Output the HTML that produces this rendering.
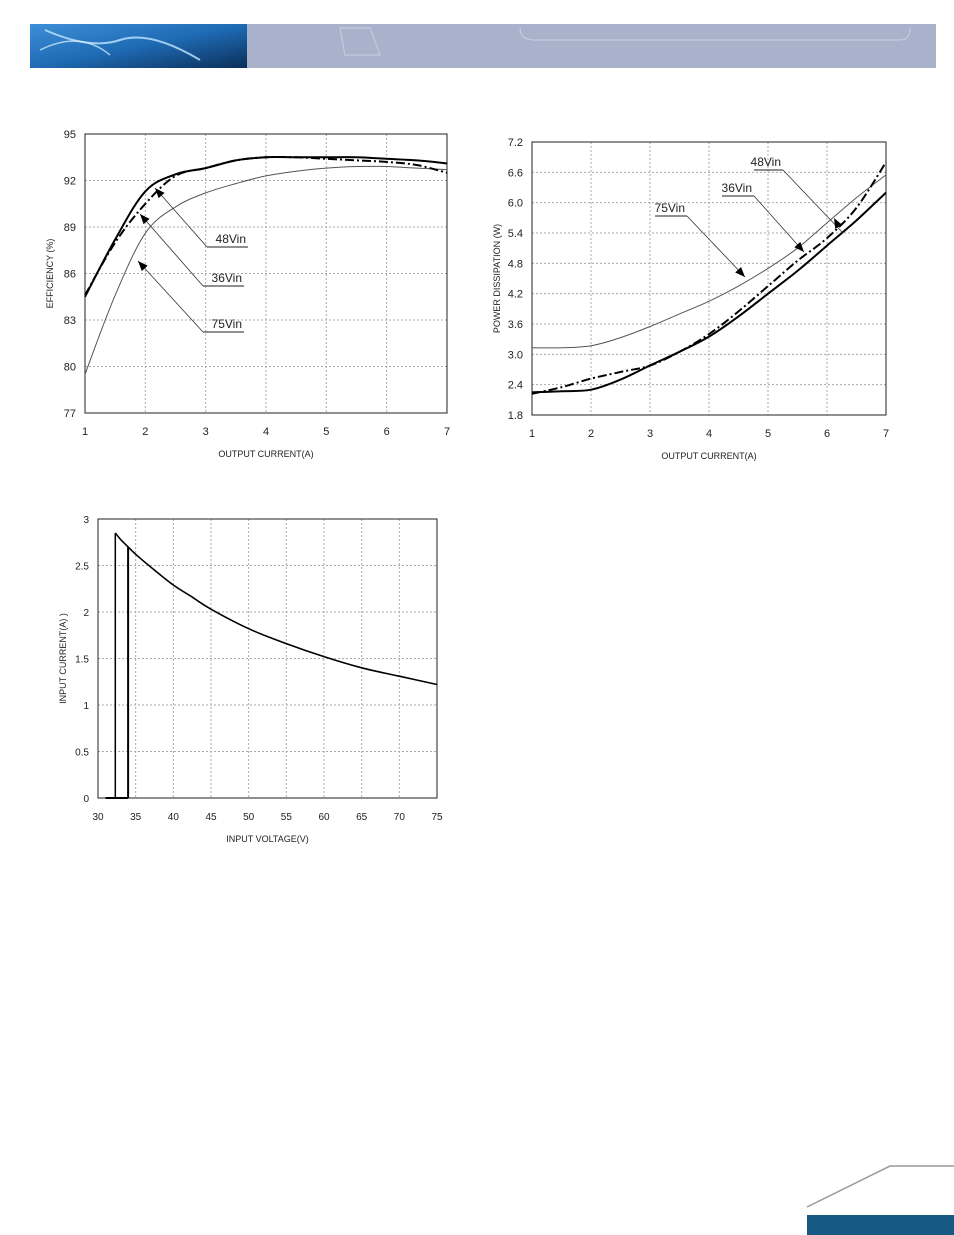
<!DOCTYPE html>
<html><head><meta charset="utf-8">
<style>
body{margin:0;background:#fff;}
#page{position:relative;width:954px;height:1235px;overflow:hidden;background:#fff;font-family:"Liberation Sans",sans-serif;}
svg text{font-family:"Liberation Sans",sans-serif;fill:#222;}
</style></head>
<body>
<div id="page">
<svg width="954" height="1235">
  <defs>
    <linearGradient id="hg" x1="0" x2="1" y1="0" y2="1">
      <stop offset="0" stop-color="#3d8fd8"/><stop offset="0.5" stop-color="#1f6bb4"/><stop offset="1" stop-color="#0b2f5a"/>
    </linearGradient>
  </defs>
  <g>
    <rect x="30" y="24" width="906" height="44" fill="#a8b3cb"/>
    <rect x="30" y="24" width="217" height="44" fill="url(#hg)"/>
    <path d="M45 30 Q90 50 120 40 T200 60" stroke="#bfe6ff" stroke-width="2" fill="none" opacity="0.8"/>
    <path d="M40 50 Q80 30 110 55" stroke="#dff3ff" stroke-width="1.5" fill="none" opacity="0.7"/>
    <path d="M340 28 L370 28 L380 55 L345 55 Z M520 28 Q520 40 535 40 L900 40 Q910 40 910 28" stroke="#c7d0e2" fill="none"/>
  </g>
  <g>
    <path d="M807 1207 L890 1166 L954 1166" stroke="#999" stroke-width="1.5" fill="none"/>
    <rect x="807" y="1215" width="147" height="20" fill="#165a84"/>
  </g>
  <g id="c1"></g>
  <g id="c2"></g>
  <g id="c3"></g>
</svg>
</div>
<script>
// Chart 1: efficiency vs output current
const effX = [1,1.5,2,2.5,3,3.5,4,4.5,5,5.5,6,6.5,7];
const eff48 = [84.5,88.2,91.3,92.4,92.8,93.3,93.5,93.5,93.5,93.5,93.4,93.3,93.1];
const eff36 = [84.6,88.0,90.5,92.3,92.8,93.3,93.5,93.5,93.4,93.3,93.2,93.0,92.5];
const eff75 = [79.5,84.6,88.6,90.3,91.2,91.8,92.3,92.6,92.8,92.9,92.9,92.8,92.7];
const effXTicks = [1,2,3,4,5,6,7];
const effYTicks = [77,80,83,86,89,92,95];
// Chart 2: power dissipation vs output current
const pdX = [1,1.5,2,2.5,3,3.5,4,4.5,5,5.5,6,6.5,7];
const pd75 = [3.13,3.13,3.17,3.33,3.55,3.8,4.05,4.35,4.7,5.1,5.6,6.1,6.55];
const pd48 = [2.25,2.27,2.3,2.5,2.78,3.05,3.35,3.75,4.2,4.65,5.15,5.65,6.2];
const pd36 = [2.22,2.35,2.52,2.65,2.78,3.05,3.4,3.85,4.35,4.85,5.3,5.9,6.8];
const pdXTicks = [1,2,3,4,5,6,7];
const pdYTicks = [1.8,2.4,3.0,3.6,4.2,4.8,5.4,6.0,6.6,7.2];
const pdYLabels = ["1.8","2.4","3.0","3.6","4.2","4.8","5.4","6.0","6.6","7.2"];
// Chart 3: input current vs input voltage
const inV = [32.3,33,34,35,37.5,40,42.5,45,50,55,60,65,70,75];
const inI = [2.85,2.78,2.7,2.62,2.45,2.29,2.16,2.03,1.82,1.66,1.52,1.40,1.31,1.22];
const baseV = [31,34];
const stepV = [32.3,34];
const stepTop = [2.85,2.7];
const inXTicks = [30,35,40,45,50,55,60,65,70,75];
const inYTicks = [0,0.5,1,1.5,2,2.5,3];

const NS="http://www.w3.org/2000/svg";
function mk(parent,tag,attrs){const e=document.createElementNS(NS,tag);for(const k in attrs)e.setAttribute(k,attrs[k]);parent.appendChild(e);return e;}
function axes(g,L,R,T,B,x0,x1,y0,y1){
  return {sx:v=>L+(v-x0)/(x1-x0)*(R-L), sy:v=>B-(v-y0)/(y1-y0)*(B-T)};
}
function frame(g,a,L,R,T,B,xt,yt,ylab,xtitle,ytitle,fs){
  xt.forEach(v=>{const x=a.sx(v);
    const l=mk(g,'line',{x1:x,x2:x,y1:T,y2:B,stroke:'#aaa','stroke-dasharray':'2,2'});
    
    const t=mk(g,'text',{x:x,y:B+22,'font-size':fs,'text-anchor':'middle'});t.textContent=v;
    });
  yt.forEach((v,i)=>{const y=a.sy(v);
    const l=mk(g,'line',{x1:L,x2:R,y1:y,y2:y,stroke:'#aaa','stroke-dasharray':'2,2'});
    
    const t=mk(g,'text',{x:L-9,y:y+4,'font-size':fs,'text-anchor':'end'});t.textContent=ylab?ylab[i]:v;
    });
  const r=mk(g,'rect',{x:L,y:T,width:R-L,height:B-T,fill:'none',stroke:'#222','stroke-width':1});
  
  const xtl=mk(g,'text',{x:(L+R)/2,y:B+44,'font-size':9,'text-anchor':'middle'});xtl.textContent=xtitle;
  
  const yx=L-32,yy=(T+B)/2;
  const ytl=mk(g,'text',{x:yx,y:yy,'font-size':9,'text-anchor':'middle',transform:`rotate(-90 ${yx} ${yy})`});ytl.textContent=ytitle;
  
}
function series(g,a,xs,ys,style,name,smooth){
  const P=xs.map((x,i)=>[a.sx(x),a.sy(ys[i])]);
  let d='M'+P[0][0].toFixed(1)+' '+P[0][1].toFixed(1);
  for(let i=1;i<P.length;i++){
    if(smooth){
      const p0=P[Math.max(0,i-2)],p1=P[i-1],p2=P[i],p3=P[Math.min(P.length-1,i+1)];
      const c1=[p1[0]+(p2[0]-p0[0])/6,p1[1]+(p2[1]-p0[1])/6];
      const c2=[p2[0]-(p3[0]-p1[0])/6,p2[1]-(p3[1]-p1[1])/6];
      d+=` C${c1[0].toFixed(1)} ${c1[1].toFixed(1)} ${c2[0].toFixed(1)} ${c2[1].toFixed(1)} ${p2[0].toFixed(1)} ${p2[1].toFixed(1)}`;
    } else d+=' L'+P[i][0].toFixed(1)+' '+P[i][1].toFixed(1);
  }
  const p=mk(g,'path',Object.assign({d:d,fill:'none','stroke-linejoin':'round'},style));
  return p;
}
function arrow(n,fx,fy,tx,ty){
  const ang=Math.atan2(ty-fy,tx-fx),len=10,w=4;
  const bx=tx-len*Math.cos(ang),by=ty-len*Math.sin(ang);
  mk(n,'polygon',{points:`${tx},${ty} ${bx+w*Math.sin(ang)},${by-w*Math.cos(ang)} ${bx-w*Math.sin(ang)},${by+w*Math.cos(ang)}`,fill:'#000'});
}
function note(g,label,lx,ly,ux1,ux2,uy,tx,ty,name){
  const n=mk(g,'g',{});
  const t=mk(n,'text',{x:ux2-2,y:uy-4,'font-size':12,'text-anchor':'end'});t.textContent=label;
  mk(n,'line',{x1:ux1,x2:ux2,y1:uy,y2:uy,stroke:'#222','stroke-width':1});
  mk(n,'line',{x1:lx,y1:ly,x2:tx,y2:ty,stroke:'#333','stroke-width':0.8});
  arrow(n,lx,ly,tx,ty);
  return n;
}
// chart 1
{const g=document.getElementById('c1');const L=85,R=447,T=134,B=413;
 const a=axes(g,L,R,T,B,1,7,77,95);
 frame(g,a,L,R,T,B,effXTicks,effYTicks,null,'OUTPUT CURRENT(A)','EFFICIENCY (%)',11);
 series(g,a,effX,eff75,{stroke:'#555','stroke-width':1},'series-75vin',true);
 series(g,a,effX,eff36,{stroke:'#000','stroke-width':2,'stroke-dasharray':'9,3,2,3'},'series-36vin',true);
 series(g,a,effX,eff48,{stroke:'#000','stroke-width':2},'series-48vin',true);
 note(g,'48Vin',207,247,207,248,247,155,188,'label-48vin');
 note(g,'36Vin',203,286,203,244,286,140,214,'label-36vin');
 note(g,'75Vin',203,332,203,244,332,138,261,'label-75vin');}
// chart 2
{const g=document.getElementById('c2');const L=532,R=886,T=142,B=415;
 const a=axes(g,L,R,T,B,1,7,1.8,7.2);
 frame(g,a,L,R,T,B,pdXTicks,pdYTicks,pdYLabels,'OUTPUT CURRENT(A)','POWER DISSIPATION (W)',11);
 series(g,a,pdX,pd75,{stroke:'#555','stroke-width':1},'series-75vin',true);
 series(g,a,pdX,pd36,{stroke:'#000','stroke-width':2,'stroke-dasharray':'9,3,2,3'},'series-36vin',true);
 series(g,a,pdX,pd48,{stroke:'#000','stroke-width':2},'series-48vin',true);
 const n=note(g,'48Vin',783,170,754,783,170,843,233,'label-48vin');
 n.lastChild.remove();
 arrow(n,841,231,834,218);
 note(g,'36Vin',754,196,722,754,196,804,252,'label-36vin');
 note(g,'75Vin',687,216,655,687,216,745,277,'label-75vin');}
// chart 3
{const g=document.getElementById('c3');const L=98,R=437,T=519,B=798;
 const a=axes(g,L,R,T,B,30,75,0,3);
 frame(g,a,L,R,T,B,inXTicks,inYTicks,null,'INPUT VOLTAGE(V)','INPUT CURRENT(A)   )',10);
 series(g,a,baseV,[0,0],{stroke:'#000','stroke-width':2},'zero-current-segment');
 stepV.forEach((v,i)=>{series(g,a,[v,v],[0,stepTop[i]],{stroke:'#000','stroke-width':i?2:1.5},'turn-on-step');});
 series(g,a,inV,inI,{stroke:'#000','stroke-width':1.6},'input-current-curve',true);}
</script>
</body></html>
